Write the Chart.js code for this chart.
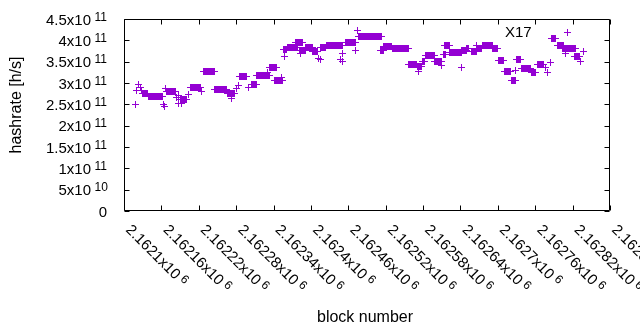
<!DOCTYPE html>
<html>
<head>
<meta charset="utf-8">
<script src="https://cdn.jsdelivr.net/npm/chart.js@4/dist/chart.umd.min.js"></script>
<style>
  html, body { margin: 0; padding: 0; background: #fff; }
  canvas { display: block; }
</style>
</head>
<body>
<canvas id="chartHashrate" width="640" height="330"></canvas>
<script>
// block number = firstBlock + blockOffset; hashrate in GH/s
const firstBlock = 2162100;
const blockOffset = [
  19, 20, 23, 27, 28,
  29, 30, 31, 32, 33, 34, 35, 36, 37, 38,
  40, 41, 42, 43, 44, 45, 46, 47, 48, 49, 50, 51, 52, 53, 54, 55, 56, 57, 58, 59, 60, 61, 62,
  64, 65, 67,
  69, 70, 71, 72, 73, 74, 75, 76, 77, 78, 79, 80, 81, 82,
  85, 87, 88, 93,
  91, 92, 93, 94, 95, 96, 97, 98, 99, 100, 101,
  103,
  106, 107, 108, 109, 110, 111, 112, 113, 114, 115, 116, 117, 118, 119, 120, 121, 122, 123,
  124,
  127, 128, 129, 130, 131, 132, 133, 134, 135, 136, 137, 138, 139, 140, 141, 142, 143, 144, 145,
  146, 147, 148, 149, 150, 151, 152, 153, 154, 155, 156, 157, 158, 159, 160, 161, 162, 163, 164, 165,
  166, 167, 168, 169, 170, 171, 172, 173, 174, 175, 176, 177,
  172, 180, 183,
  185, 186, 187, 188, 189, 190, 191, 192, 193, 194, 195, 196,
  200,
  204, 205, 206, 207, 208, 209, 210, 211, 212,
  213, 214, 215, 216, 217, 218, 219, 220, 221, 222, 223, 224, 225, 226, 227, 228, 229, 230, 231, 232, 233,
  231,
  234, 235, 236, 237, 238, 239, 240, 241, 242, 243, 244,
  241, 242, 243, 244, 245, 246, 247, 248, 249, 250, 251, 252, 253, 254,
  252,
  256, 257, 258, 259, 260, 261,
  258,
  262, 263, 264, 265, 266, 267, 268, 269, 270, 271, 272, 273, 274, 275, 276, 277, 278,
  276, 277, 278, 279, 280, 281, 282, 283, 284, 285, 286,
  284,
  282, 283, 284, 285, 286, 287, 288, 289, 290, 291,
  292, 293, 294, 295, 296, 297, 298, 299, 300, 301, 302,
  303, 304, 305, 306, 307, 308, 309, 310,
  312, 315,
  316, 317, 318, 319, 320, 321, 322, 323, 324,
  325, 326, 327, 328, 329, 330, 331, 332, 333, 334, 335, 336, 337, 338, 339, 340, 341, 342, 343, 344, 345, 346, 347, 348, 349, 350,
  347, 350, 351,
  356, 357, 358, 359, 360, 361, 362, 363, 364, 365, 366, 367, 368, 369, 370, 371, 372,
  371, 374,
  377, 378, 379, 380, 381, 382, 383, 384, 385, 386, 387, 388, 389, 390, 391, 392, 393, 394, 395,
  396, 397, 398, 399, 400, 401, 402, 403, 404, 405, 406, 407, 408, 409, 410, 411, 412, 413, 414,
  412, 413, 414, 415, 416,
  417, 418, 419, 420, 421, 422, 423, 424, 425, 426, 427, 428, 429, 430,
  431, 432, 433, 434, 435, 436, 437, 438, 439, 440, 441, 442, 443,
  444, 445, 446, 447, 448, 449, 450, 451, 452, 453, 454, 455, 456,
  457, 458, 459, 460, 461, 462, 463, 464, 465, 466, 467, 468, 469, 470,
  471, 472, 473, 474, 475, 476, 477, 478,
  472,
  479, 480, 481, 482, 483,
  484, 485, 486, 487, 488, 489, 490, 491, 492, 493, 494, 495, 496, 497, 498,
  499, 500, 501, 502, 503, 504, 505, 506, 507, 508, 509,
  510,
  513, 514, 515, 516,
  514,
  516, 517, 518, 519, 520, 521, 522,
  523, 524, 525, 526, 527, 528, 529, 530, 531, 532, 533, 534, 535, 536, 537, 538, 539, 540, 541,
  542,
  542, 543, 544, 545, 546, 547, 548, 549, 550,
  549, 550, 551, 552, 553,
  557, 558, 559, 560, 561, 562, 563, 564, 565,
  565,
  566, 567, 568, 569, 570, 571, 572, 573, 574,
  576, 577, 578, 579, 580, 581, 582, 583, 584, 585, 586, 587, 588, 589, 590, 591,
  592, 593, 594, 595, 596, 597, 598, 599, 600,
  601, 602, 603, 604, 605, 606, 607, 608, 609,
  611, 612, 613, 614, 615, 616, 617, 618, 619, 620, 621,
  622, 623, 624, 625, 626, 627, 628,
  628,
  630, 631, 632, 633, 634, 635, 636,
  638, 639, 640, 641, 642, 643, 644, 645, 646, 647, 648, 649, 650, 651, 652, 653,
  654, 655, 656, 657, 658, 659, 660,
  663, 664, 665, 666, 667, 668, 669, 670, 671, 672, 673, 674,
  676, 679, 684,
  686, 687, 688, 689, 690, 691, 692,
  695, 696, 697, 698, 699, 700, 701, 702, 703, 704, 705, 706,
  708,
  704, 705, 706, 707, 708, 709, 710, 711, 712, 713, 714, 715, 716, 717, 718, 719, 720, 721, 722, 723, 724,
  711,
  723, 724, 725, 726, 727, 728, 729, 730, 731,
  733, 737
];
const hashrateGH = [
  250, 283, 297, 290, 283,
  276, 276, 276, 276, 276, 276, 276, 276, 276, 276,
  269, 269, 269, 269, 269, 269, 269, 269, 269, 269, 269, 269, 269, 269, 269, 269, 269, 269, 269, 269, 269, 269, 269,
  250, 244, 288,
  281, 281, 281, 281, 281, 281, 281, 281, 281, 281, 281, 281, 281, 281,
  267, 253, 271, 252,
  261, 261, 261, 261, 261, 261, 261, 261, 261, 261, 261,
  272,
  289, 289, 289, 289, 289, 289, 289, 289, 289, 289, 289, 289, 289, 289, 289, 289, 289, 289,
  281,
  328, 328, 328, 328, 328, 328, 328, 328, 328, 328, 328, 328, 328, 328, 328, 328, 328, 328, 328,
  284, 284, 284, 284, 284, 284, 284, 284, 284, 284, 284, 284, 284, 284, 284, 284, 284, 284, 284, 284,
  275, 275, 275, 275, 275, 275, 275, 275, 275, 275, 275, 275,
  264, 286, 295,
  316, 316, 316, 316, 316, 316, 316, 316, 316, 316, 316, 316,
  289,
  296, 296, 296, 296, 296, 296, 296, 296, 296,
  318, 318, 318, 318, 318, 318, 318, 318, 318, 318, 318, 318, 318, 318, 318, 318, 318, 318, 318, 318, 318,
  324,
  337, 337, 337, 337, 337, 337, 337, 337, 337, 337, 337,
  307, 307, 307, 307, 307, 307, 307, 307, 307, 307, 307, 307, 307, 307,
  314,
  379, 379, 379, 379, 379, 379,
  361,
  383, 383, 383, 383, 383, 383, 383, 383, 383, 383, 383, 383, 383, 383, 383, 383, 383,
  395, 395, 395, 395, 395, 395, 395, 395, 395, 395, 395,
  368,
  376, 376, 376, 376, 376, 376, 376, 376, 376, 376,
  383, 383, 383, 383, 383, 383, 383, 383, 383, 383, 383,
  375, 375, 375, 375, 375, 375, 375, 375,
  358, 356,
  383, 383, 383, 383, 383, 383, 383, 383, 383,
  388, 388, 388, 388, 388, 388, 388, 388, 388, 388, 388, 388, 388, 388, 388, 388, 388, 388, 388, 388, 388, 388, 388, 388, 388, 388,
  356, 350, 368,
  394, 394, 394, 394, 394, 394, 394, 394, 394, 394, 394, 394, 394, 394, 394, 394, 394,
  377, 424,
  409, 409, 409, 409, 409, 409, 409, 409, 409, 409, 409, 409, 409, 409, 409, 409, 409, 409, 409,
  409, 409, 409, 409, 409, 409, 409, 409, 409, 409, 409, 409, 409, 409, 409, 409, 409, 409, 409,
  377, 377, 377, 377, 377,
  385, 385, 385, 385, 385, 385, 385, 385, 385, 385, 385, 385, 385, 385,
  381, 381, 381, 381, 381, 381, 381, 381, 381, 381, 381, 381, 381,
  381, 381, 381, 381, 381, 381, 381, 381, 381, 381, 381, 381, 381,
  343, 343, 343, 343, 343, 343, 343, 343, 343, 343, 343, 343, 343, 343,
  338, 338, 338, 338, 338, 338, 338, 338,
  328,
  350, 350, 350, 350, 350,
  365, 365, 365, 365, 365, 365, 365, 365, 365, 365, 365, 365, 365, 365, 365,
  351, 351, 351, 351, 351, 351, 351, 351, 351, 351, 351,
  342,
  367, 367, 367, 367,
  389,
  388, 388, 388, 388, 388, 388, 388,
  372, 372, 372, 372, 372, 372, 372, 372, 372, 372, 372, 372, 372, 372, 372, 372, 372, 372, 372,
  337,
  376, 376, 376, 376, 376, 376, 376, 376, 376,
  382, 382, 382, 382, 382,
  374, 374, 374, 374, 374, 374, 374, 374, 374,
  389,
  381, 381, 381, 381, 381, 381, 381, 381, 381,
  388, 388, 388, 388, 388, 388, 388, 388, 388, 388, 388, 388, 388, 388, 388, 388,
  381, 381, 381, 381, 381, 381, 381, 381, 381,
  353, 353, 353, 353, 353, 353, 353, 353, 353,
  328, 328, 328, 328, 328, 328, 328, 328, 328, 328, 328,
  307, 307, 307, 307, 307, 307, 307,
  330,
  354, 354, 354, 354, 354, 354, 354,
  334, 334, 334, 334, 334, 334, 334, 334, 334, 334, 334, 334, 334, 334, 334, 334,
  325, 325, 325, 325, 325, 325, 325,
  344, 344, 344, 344, 344, 344, 344, 344, 344, 344, 344, 344,
  336, 325, 347,
  404, 404, 404, 404, 404, 404, 404,
  387, 387, 387, 387, 387, 387, 387, 387, 387, 387, 387, 387,
  368,
  382, 382, 382, 382, 382, 382, 382, 382, 382, 382, 382, 382, 382, 382, 382, 382, 382, 382, 382, 382, 382,
  419,
  362, 362, 362, 362, 362, 362, 362, 362, 362,
  351, 375
];

const xTicks = [2162100, 2162160, 2162220, 2162280, 2162340, 2162400, 2162460,
  2162520, 2162580, 2162640, 2162700, 2162760, 2162820, 2162880];
const yTicks = [0, 5e10, 1e11, 1.5e11, 2e11, 2.5e11, 3e11, 3.5e11, 4e11, 4.5e11];

const points = blockOffset.map((o, i) => ({ x: firstBlock + o, y: hashrateGH[i] * 1e9 }));

const FONT = '"Liberation Sans", Arial, sans-serif';
const COLOR = '#9400d3';

// crisp 7x7 "+" like gnuplot's point type 1
const plusMark = document.createElement('canvas');
plusMark.width = 7;
plusMark.height = 7;
const pc = plusMark.getContext('2d');
pc.fillStyle = COLOR;
pc.fillRect(0, 3, 7, 1);
pc.fillRect(3, 0, 1, 7);

// gnuplot style "mantissa x10^exp"
function sciParts(v) {
  if (v === 0) return ['0', ''];
  const e = Math.floor(Math.log10(v));
  const m = +(v / Math.pow(10, e)).toFixed(5);
  return [m + 'x10', String(e)];
}

const crispPoints = {
  id: 'crispPoints',
  beforeDatasetsDraw(chart) { chart.ctx.imageSmoothingEnabled = false; },
  afterDatasetsDraw(chart) { chart.ctx.imageSmoothingEnabled = true; }
};

const gnuplotFrame = {
  id: 'gnuplotFrame',
  afterDraw(chart) {
    const ctx = chart.ctx;
    const a = chart.chartArea;
    const xs = chart.scales.x, ys = chart.scales.y;
    const L = Math.round(a.left) + 0.5, R = Math.round(a.right) - 0.5;
    const T = Math.round(a.top) + 0.5, B = Math.round(a.bottom) - 0.5;
    ctx.save();
    ctx.strokeStyle = '#000';
    ctx.lineWidth = 1;
    ctx.beginPath();
    ctx.rect(L, T, R - L, B - T);
    // inward tics on all four sides
    yTicks.forEach(v => {
      const p = Math.round(ys.getPixelForValue(v)) + 0.5;
      ctx.moveTo(L, p); ctx.lineTo(L + 5, p);
      ctx.moveTo(R, p); ctx.lineTo(R - 5, p);
    });
    xTicks.forEach(v => {
      const p = Math.round(xs.getPixelForValue(v)) + 0.5;
      ctx.moveTo(p, B); ctx.lineTo(p, B - 5);
      ctx.moveTo(p, T); ctx.lineTo(p, T + 5);
    });
    ctx.stroke();

    ctx.fillStyle = '#000';
    // y tick labels
    yTicks.forEach(v => {
      const p = ys.getPixelForValue(v);
      const [main, sup] = sciParts(v);
      ctx.font = '15px ' + FONT;
      ctx.textAlign = 'right';
      ctx.textBaseline = 'alphabetic';
      if (!sup) { ctx.fillText(main, 107, p + 5.5); return; }
      ctx.fillText(main, 91, p + 5.5);
      ctx.font = '12px ' + FONT;
      ctx.textAlign = 'left';
      ctx.fillText(sup, 94.5, p + 1.5);
    });
    // x tick labels, rotated
    xTicks.forEach(v => {
      const p = xs.getPixelForValue(v);
      const [main, sup] = sciParts(v);
      ctx.save();
      ctx.translate(p + 1, B + 20);
      ctx.rotate(Math.PI / 4);
      ctx.font = '15px ' + FONT;
      ctx.textAlign = 'left';
      ctx.textBaseline = 'alphabetic';
      ctx.fillText(main, 0, 0);
      const w = ctx.measureText(main).width;
      ctx.font = '12px ' + FONT;
      ctx.fillText(sup, w + 3.5, -4);
      ctx.restore();
    });
    // axis titles
    ctx.textAlign = 'center';
    ctx.textBaseline = 'alphabetic';
    ctx.font = '16px ' + FONT;
    ctx.fillText('block number', 365, 322);
    ctx.save();
    ctx.translate(20.5, 105);
    ctx.rotate(-Math.PI / 2);
    ctx.fillText('hashrate [h/s]', 0, 0);
    ctx.restore();
    // label
    ctx.font = '15px ' + FONT;
    ctx.textAlign = 'left';
    ctx.fillText('X17', 505, 37);
    ctx.restore();
  }
};

new Chart(document.getElementById('chartHashrate'), {
  type: 'scatter',
  data: {
    datasets: [{
      data: points,
      pointStyle: plusMark,
      pointRadius: 3.5,
      pointHoverRadius: 3.5,
      borderWidth: 1,
      borderColor: COLOR,
      backgroundColor: COLOR
    }]
  },
  options: {
    responsive: false,
    animation: false,
    devicePixelRatio: 1,
    layout: { padding: { left: 124, right: 30, top: 19, bottom: 119 } },
    plugins: { legend: { display: false }, tooltip: { enabled: false } },
    scales: {
      x: { type: 'linear', display: false, min: 2162100, max: 2162880 },
      y: { type: 'linear', display: false, min: 0, max: 4.5e11 }
    }
  },
  plugins: [crispPoints, gnuplotFrame]
});
</script>
</body>
</html>
